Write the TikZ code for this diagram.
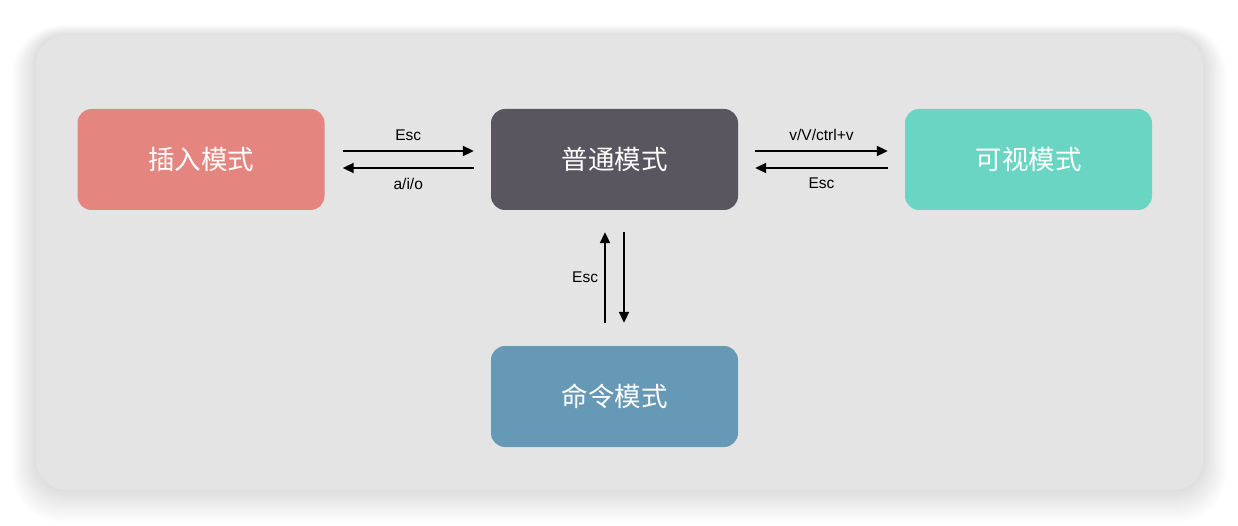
\documentclass[tikz,border=0pt]{standalone}
\usepackage{fontspec}
\setmainfont{Liberation Sans}
\newfontfamily\cjk{Noto Sans CJK SC}
\usetikzlibrary{arrows.meta}
\definecolor{panel}{HTML}{E4E4E4}
\definecolor{insc}{HTML}{E5857F}
\definecolor{normc}{HTML}{595660}
\definecolor{visc}{HTML}{6BD5C3}
\definecolor{cmdc}{HTML}{6699B6}
\tikzset{
  mode/.style={rounded corners=14pt, minimum width=247pt, minimum height=101pt, inner sep=0pt,
    text=white, font=\cjk\fontsize{26.5}{30}\selectfont},
  conn/.style={line width=2pt, -{Triangle[length=11pt,width=10pt]}},
  lbl/.style={font=\fontsize{15.5}{18}\selectfont, text=black, inner sep=0pt}
}
\begin{document}
\begin{tikzpicture}[x=1pt,y=-1pt]
\useasboundingbox (0,0) rectangle (1238,526);
\fill[white] (0,0) rectangle (1238,526);
% shadow
\foreach \i in {1,...,16}{
  \fill[black, opacity=0.008, rounded corners={30+\i*1.2}] (36-\i*1.5,35-\i*0.6) rectangle (1203+\i*1.5,490+\i*2.0);
}
\fill[panel, rounded corners=30pt] (36,35) rectangle (1203,490);
\node[mode, fill=insc] (ins) at (201,159.5) {插入模式};
\node[mode, fill=normc] (nor) at (614.5,159.5) {普通模式};
\node[mode, fill=visc] (vis) at (1028.5,159.5) {可视模式};
\node[mode, fill=cmdc] (cmd) at (614.5,396.5) {命令模式};
% insert <-> normal
\draw[conn] ([xshift=18pt,yshift=8.5pt]ins.east) -- ([xshift=-17pt,yshift=8.5pt]nor.west)
  node[lbl, midway, above=9pt] {Esc};
\draw[conn] ([xshift=-17pt,yshift=-8.5pt]nor.west) -- ([xshift=18pt,yshift=-8.5pt]ins.east)
  node[lbl, midway, below=9pt] {a/i/o};
% normal <-> visual
\draw[conn] ([xshift=17pt,yshift=8.5pt]nor.east) -- ([xshift=-17pt,yshift=8.5pt]vis.west)
  node[lbl, midway, above=9pt] {v/V/ctrl+v};
\draw[conn] ([xshift=-17pt,yshift=-8.5pt]vis.west) -- ([xshift=17pt,yshift=-8.5pt]nor.east)
  node[lbl, midway, below=9pt] {Esc};
% normal <-> command
\draw[conn] ([xshift=-9.5pt,yshift=23pt]cmd.north) -- ([xshift=-9.5pt,yshift=-22pt]nor.south)
  node[lbl, midway, left=6pt] {Esc};
\draw[conn] ([xshift=9.5pt,yshift=-22pt]nor.south) -- ([xshift=9.5pt,yshift=23pt]cmd.north);
\end{tikzpicture}
\end{document}
